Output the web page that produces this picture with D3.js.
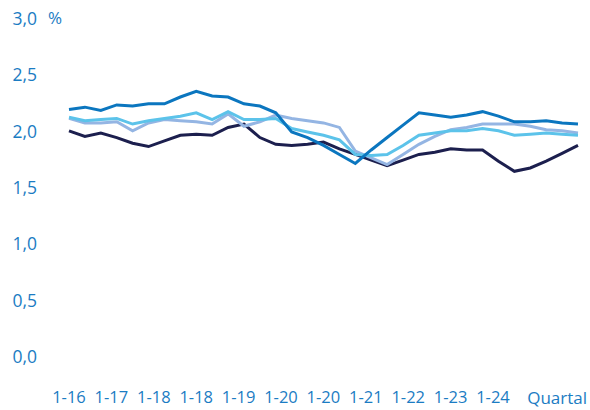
<!DOCTYPE html>
<html>
<head>
<meta charset="utf-8">
<script src="https://cdn.jsdelivr.net/npm/d3@7"></script>
<style>
  html, body { margin: 0; padding: 0; background: #ffffff; }
  svg { display: block; }
  text { font-family: "Open Sans", "Noto Sans", sans-serif; fill: #1b7cc3; }
</style>
</head>
<body>
<svg id="chart" width="590" height="410"></svg>
<script>
// Quarterly values, Q1 2016 to Q1 2024, in percent
const quarters = d3.range(33);

const seriesDark = [2.00, 1.95, 1.98, 1.94, 1.89, 1.86, 1.91, 1.96, 1.97, 1.96, 2.03, 2.06, 1.94, 1.88, 1.87, 1.88,
                    1.90, 1.84, 1.79, 1.74, 1.69, 1.74, 1.79, 1.81, 1.84, 1.83, 1.83, 1.73, 1.64, 1.67, 1.73, 1.80, 1.87];
const seriesLavender = [2.11, 2.07, 2.07, 2.08, 2.00, 2.07, 2.10, 2.09, 2.08, 2.06, 2.15, 2.04, 2.08, 2.14, 2.11, 2.09,
                        2.07, 2.03, 1.82, 1.76, 1.70, 1.79, 1.88, 1.95, 2.01, 2.03, 2.06, 2.06, 2.06, 2.04, 2.01, 2.00, 1.98];
const seriesSky = [2.12, 2.09, 2.10, 2.11, 2.06, 2.09, 2.11, 2.13, 2.16, 2.10, 2.17, 2.10, 2.10, 2.11, 2.02, 1.99,
                   1.96, 1.92, 1.79, 1.78, 1.79, 1.87, 1.96, 1.98, 2.00, 2.00, 2.02, 2.00, 1.96, 1.97, 1.98, 1.97, 1.96];
const seriesBlue = [2.19, 2.21, 2.18, 2.23, 2.22, 2.24, 2.24, 2.30, 2.35, 2.31, 2.30, 2.24, 2.22, 2.16, 1.99, 1.94,
                    1.87, 1.79, 1.71, 1.83, 1.94, 2.05, 2.16, 2.14, 2.12, 2.14, 2.17, 2.13, 2.08, 2.08, 2.09, 2.07, 2.06];

const xTickLabels = ["1-16", "1-17", "1-18", "1-18", "1-19", "1-20", "1-20", "1-21", "1-22", "1-23", "1-24"];
const yTicks = [0, 0.5, 1.0, 1.5, 2.0, 2.5, 3.0];
const xTitle = "Quartal";
const yUnit = "%";

const svg = d3.select("#chart");

const x = d3.scaleLinear().domain([0, quarters.length - 1]).range([69, 578]);
const y = d3.scaleLinear().domain([0, 3]).range([356, 18.2]);
const xLabelPos = d3.scalePoint().domain(d3.range(xTickLabels.length)).range([68.5, 492.5]);

const fmt = v => d3.format(".1f")(v).replace(".", ",");

// Y axis: labels only, no domain line or ticks
const yAxis = svg.append("g")
  .attr("transform", "translate(37,0)")
  .call(d3.axisLeft(y).tickValues(yTicks).tickFormat(fmt).tickSize(0).tickPadding(0));
yAxis.select(".domain").remove();
yAxis.selectAll("text")
  .attr("font-size", 17.5)
  .attr("font-family", null)
  .attr("fill", null)
  .attr("dy", "0.36em");

svg.append("text")
  .attr("x", 48)
  .attr("y", y(3))
  .attr("dy", "0.36em")
  .attr("font-size", 17)
  .text(yUnit);

// X axis: category labels along the bottom
const xAxis = svg.append("g")
  .attr("transform", "translate(0,397.5)")
  .call(d3.axisBottom(xLabelPos).tickFormat(i => xTickLabels[i]).tickSize(0).tickPadding(0));
xAxis.select(".domain").remove();
xAxis.selectAll("text")
  .attr("font-size", 16.5)
  .attr("font-family", null)
  .attr("fill", null)
  .attr("dy", "0.36em");

svg.append("text")
  .attr("x", 587)
  .attr("y", 397.5)
  .attr("dy", "0.36em")
  .attr("text-anchor", "end")
  .attr("font-size", 17)
  .text(xTitle);

// Lines
const line = d3.line()
  .x((d, i) => x(quarters[i]))
  .y(d => y(d));

const series = [
  { values: seriesDark, color: "#1c1f4e" },
  { values: seriesLavender, color: "#94b5e3" },
  { values: seriesSky, color: "#5cc3ea" },
  { values: seriesBlue, color: "#0b76bf" }
];

svg.append("g")
  .selectAll("path")
  .data(series)
  .join("path")
  .attr("d", d => line(d.values))
  .attr("fill", "none")
  .attr("stroke", d => d.color)
  .attr("stroke-width", 3)
  .attr("stroke-linejoin", "miter");
</script>
</body>
</html>
